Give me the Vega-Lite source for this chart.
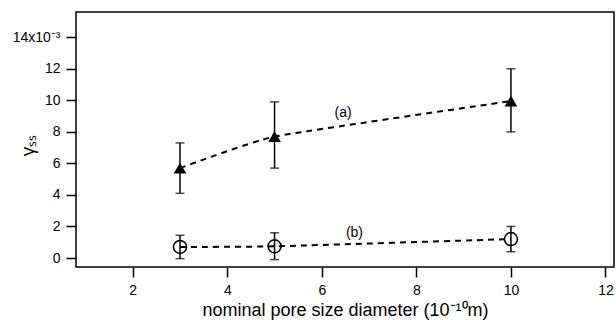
{
  "$schema": "https://vega.github.io/schema/vega-lite/v6.json",
  "width": 538,
  "height": 255,
  "autosize": {"type": "none"},
  "padding": {"left": 76, "top": 12, "right": 2, "bottom": 53},
  "background": "white",
  "config": {
    "font": "Liberation Sans",
    "view": {"stroke": "black", "strokeWidth": 1.5},
    "axis": {
      "domain": false,
      "grid": false,
      "tickColor": "black",
      "tickWidth": 1.5,
      "tickSize": 10,
      "labelColor": "black",
      "labelFontSize": 14,
      "labelFont": "Liberation Sans",
      "labelOverlap": false,
      "titleFont": "Liberation Sans",
      "titleColor": "black",
      "titleFontWeight": "normal",
      "titleFontSize": 16
    }
  },
  "datasets": {
    "pts": [
      {"series": "a", "d": 3, "g": 5.7, "lo": 4.1, "hi": 7.3},
      {"series": "a", "d": 5, "g": 7.7, "lo": 5.7, "hi": 9.9},
      {"series": "a", "d": 10, "g": 9.95, "lo": 8.0, "hi": 12.0},
      {"series": "b", "d": 3, "g": 0.7, "lo": -0.04, "hi": 1.44},
      {"series": "b", "d": 5, "g": 0.74, "lo": -0.1, "hi": 1.6},
      {"series": "b", "d": 10, "g": 1.2, "lo": 0.4, "hi": 2.0}
    ],
    "labels": [
      {"d": 6.45, "g": 9.2, "text": "(a)"},
      {"d": 6.69, "g": 1.57, "text": "(b)"}
    ]
  },
  "layer": [
    {
      "data": {"name": "pts"},
      "mark": {"type": "rule", "color": "black", "strokeWidth": 1.5},
      "encoding": {
        "x": {
          "field": "d", "type": "quantitative",
          "scale": {"domain": [0.8, 12.18], "nice": false, "zero": false},
          "axis": {"values": [2, 4, 6, 8, 10, 12], "tickCount": 12, "labelPadding": 6, "title": "nominal pore size diameter (10⁻¹⁰m)", "titleFontSize": 18, "titlePadding": 4}
        },
        "y": {
          "field": "lo", "type": "quantitative",
          "scale": {"domain": [-0.57, 15.6], "nice": false, "zero": false},
          "axis": {
            "values": [0, 2, 4, 6, 8, 10, 12, 14],
            "tickCount": 16,
            "labelExpr": "datum.value == 14 ? '14x10⁻³' : datum.label",
            "labelPadding": 6,
            "title": "γₛₛ",
            "titleFontSize": 19,
            "titleX": -49,
            "titleY": 133,
            "titleAngle": -90,
            "titleBaseline": "middle",
            "titleAlign": "center"
          }
        },
        "y2": {"field": "hi"}
      }
    },
    {
      "data": {"name": "pts"},
      "mark": {"type": "tick", "orient": "horizontal", "color": "black", "thickness": 1.5, "size": 9},
      "encoding": {
        "x": {"field": "d", "type": "quantitative"},
        "y": {"field": "lo", "type": "quantitative"}
      }
    },
    {
      "data": {"name": "pts"},
      "mark": {"type": "tick", "orient": "horizontal", "color": "black", "thickness": 1.5, "size": 9},
      "encoding": {
        "x": {"field": "d", "type": "quantitative"},
        "y": {"field": "hi", "type": "quantitative"}
      }
    },
    {
      "data": {"name": "pts"},
      "mark": {"type": "line", "color": "black", "strokeWidth": 2, "strokeDash": [6, 5], "interpolate": "cardinal", "tension": 0.6},
      "encoding": {
        "x": {"field": "d", "type": "quantitative"},
        "y": {"field": "g", "type": "quantitative"},
        "detail": {"field": "series"}
      }
    },
    {
      "data": {"name": "pts"},
      "transform": [{"filter": "datum.series == 'a'"}],
      "mark": {"type": "point", "shape": "triangle-up", "filled": true, "color": "black", "opacity": 1, "size": 160},
      "encoding": {
        "x": {"field": "d", "type": "quantitative"},
        "y": {"field": "g", "type": "quantitative"}
      }
    },
    {
      "data": {"name": "pts"},
      "transform": [{"filter": "datum.series == 'b'"}],
      "mark": {"type": "point", "shape": "circle", "filled": false, "color": "black", "opacity": 1, "strokeWidth": 1.5, "size": 170},
      "encoding": {
        "x": {"field": "d", "type": "quantitative"},
        "y": {"field": "g", "type": "quantitative"}
      }
    },
    {
      "data": {"name": "labels"},
      "mark": {"type": "text", "fontSize": 14, "color": "black", "font": "Liberation Sans"},
      "encoding": {
        "x": {"field": "d", "type": "quantitative"},
        "y": {"field": "g", "type": "quantitative"},
        "text": {"field": "text"}
      }
    }
  ]
}
